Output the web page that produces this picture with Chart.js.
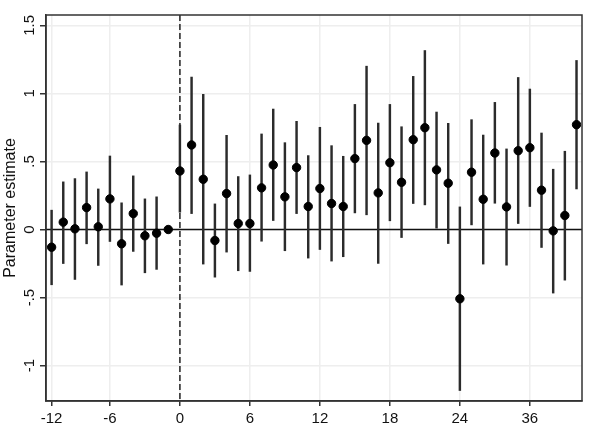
<!DOCTYPE html>
<html>
<head>
<meta charset="utf-8">
<script src="https://cdn.jsdelivr.net/npm/chart.js@4.4.1/dist/chart.umd.min.js"></script>
<style>
  html, body { margin: 0; padding: 0; background: #fff; }
  #wrap { width: 598px; height: 446px; }
</style>
</head>
<body>
<div id="wrap"><canvas id="eventChart"></canvas></div>
<script>
// posisi waktu (relatif terhadap event) untuk tiap estimasi
const periods = [-11, -10, -9, -8, -7, -6, -5, -4, -3, -2, -1,
  0, 1, 2, 3, 4, 5, 6, 7, 8, 9, 10, 11, 12, 13, 14, 15, 16, 17, 18, 19,
  20, 21, 22, 23, 24, 25, 26, 27, 28, 29, 30, 31, 32, 33, 34];
const estimates = [-0.13, 0.054, 0.005, 0.161, 0.02, 0.225, -0.105, 0.117, -0.046, -0.027, 0,
  0.43, 0.621, 0.369, -0.081, 0.264, 0.044, 0.044, 0.306, 0.474, 0.24,
  0.455, 0.169, 0.301, 0.191, 0.169, 0.521, 0.655, 0.269, 0.491, 0.347,
  0.66, 0.748, 0.438, 0.34, -0.509, 0.421, 0.222, 0.562, 0.166, 0.579,
  0.601, 0.289, -0.01, 0.103, 0.77];
const ciLow = [-0.406, -0.25, -0.367, -0.105, -0.264, -0.088, -0.408, -0.161, -0.318, -0.293, null,
  0.127, 0.117, -0.254, -0.35, -0.166, -0.303, -0.308, -0.086, 0.066, -0.156,
  0.117, -0.21, -0.147, -0.232, -0.2, 0.122, 0.108, -0.249, 0.064, -0.059,
  0.191, 0.181, 0.01, -0.103, -1.183, 0.034, -0.254, 0.193, -0.262, 0.044,
  0.169, -0.132, -0.467, -0.372, 0.298];
const ciHigh = [0.142, 0.35, 0.374, 0.423, 0.298, 0.54, 0.196, 0.394, 0.225, 0.24, null,
  0.768, 1.12, 0.993, 0.188, 0.692, 0.389, 0.401, 0.702, 0.885, 0.638,
  0.795, 0.543, 0.751, 0.616, 0.538, 0.919, 1.2, 0.782, 0.919, 0.755,
  1.125, 1.315, 0.863, 0.78, 0.166, 0.807, 0.694, 0.934, 0.592, 1.117,
  1.032, 0.709, 0.443, 0.575, 1.242];

// tick sumbu (posisi dan label seperti di gambar asli)
const xTickPos = [-11, -6, 0, 6, 12, 18, 24, 30];
const xTickLabels = ['-12', '-6', '0', '6', '12', '18', '24', '36'];
const yTickVals = [-1, -0.5, 0, 0.5, 1, 1.5];
const yTickLabels = ['-1', '-.5', '0', '.5', '1', '1.5'];

const FONT = "'Liberation Sans', Arial, sans-serif";
const AXIS_COLOR = '#333333';
const GRID_COLOR = '#eeeeee';

// garis referensi di 0 (horizontal solid, vertikal putus-putus) + bingkai plot
const refLines = {
    id: 'refLines',
    beforeDatasetsDraw(chart) {
        const { ctx, chartArea: a, scales: { x, y } } = chart;
        ctx.save();
        ctx.strokeStyle = '#111';
        ctx.lineWidth = 1.5;
        const y0 = y.getPixelForValue(0);
        ctx.beginPath();
        ctx.moveTo(a.left, y0);
        ctx.lineTo(a.right, y0);
        ctx.stroke();
        const x0 = x.getPixelForValue(0);
        ctx.setLineDash([6, 3]);
        ctx.strokeStyle = '#222';
        ctx.beginPath();
        ctx.moveTo(x0, a.top);
        ctx.lineTo(x0, a.bottom);
        ctx.stroke();
        ctx.restore();
    },
    afterDraw(chart) {
        const { ctx, chartArea: a } = chart;
        ctx.save();
        ctx.strokeStyle = AXIS_COLOR;
        ctx.lineWidth = 1.5;
        ctx.strokeRect(a.left, a.top, a.right - a.left, a.bottom - a.top);
        ctx.restore();
    }
};

new Chart(document.getElementById('eventChart'), {
    type: 'bar',
    data: {
        datasets: [
            {
                type: 'scatter',
                label: 'Estimate',
                data: periods.map((p, i) => ({ x: p, y: estimates[i] })),
                backgroundColor: '#000',
                borderColor: '#000',
                pointRadius: 4.2,
                order: 0
            },
            {
                type: 'bar',
                label: '95% CI',
                data: periods.map((p, i) => ({ x: p, y: ciLow[i] === null ? null : [ciLow[i], ciHigh[i]] })),
                backgroundColor: '#2b2b2b',
                barThickness: 1.8,
                order: 1
            }
        ]
    },
    options: {
        responsive: true,
        maintainAspectRatio: false,
        animation: false,
        layout: { padding: { top: 15, right: 16, left: 0, bottom: 0 } },
        plugins: { legend: { display: false }, tooltip: { enabled: false } },
        scales: {
            x: {
                type: 'linear',
                min: -11.48,
                max: 34.47,
                offset: false,
                afterBuildTicks: s => { s.ticks = xTickPos.map(v => ({ value: v })); },
                afterFit: s => { s.height = 45; },
                ticks: {
                    callback: (v, i) => xTickLabels[i],
                    color: '#111',
                    font: { family: FONT, size: 15 },
                    padding: 4,
                    maxRotation: 0,
                    autoSkip: false
                },
                grid: { color: GRID_COLOR, lineWidth: 1.5, tickLength: 5, tickColor: AXIS_COLOR, tickWidth: 1.5, offset: false },
                border: { color: AXIS_COLOR, width: 1.5 }
            },
            y: {
                type: 'linear',
                min: -1.26,
                max: 1.576,
                afterBuildTicks: s => { s.ticks = yTickVals.map(v => ({ value: v })); },
                afterFit: s => { s.width = 46; },
                ticks: {
                    callback: (v, i) => yTickLabels[i],
                    color: '#111',
                    font: { family: FONT, size: 15 },
                    minRotation: 90,
                    maxRotation: 90,
                    crossAlign: 'center',
                    padding: 0
                },
                title: {
                    display: true,
                    text: 'Parameter estimate',
                    color: '#111',
                    font: { family: FONT, size: 16 },
                    padding: { top: 1, bottom: 0 }
                },
                grid: { color: GRID_COLOR, lineWidth: 1.5, tickLength: 6, tickColor: AXIS_COLOR, tickWidth: 1.5 },
                border: { color: AXIS_COLOR, width: 1.5 }
            }
        }
    },
    plugins: [refLines]
});
</script>
</body>
</html>
